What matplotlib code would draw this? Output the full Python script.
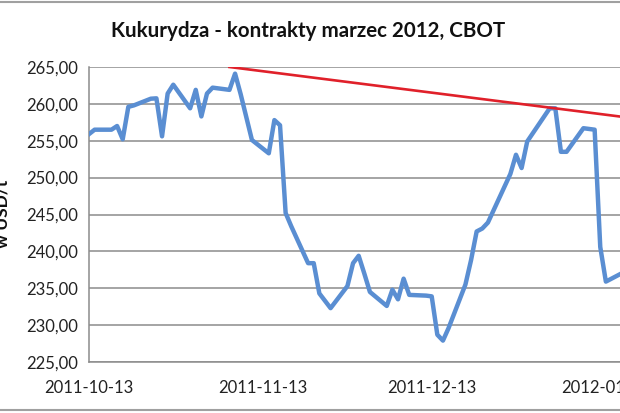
import numpy as np
import pandas as pd
import matplotlib
matplotlib.use('Agg')
import matplotlib.pyplot as plt
import matplotlib.dates as mdates
from matplotlib.ticker import FuncFormatter
from matplotlib.lines import Line2D

# notowania kukurydzy (kontrakt marzec 2012), USD/t
daty = ['2011-10-13', '2011-10-14', '2011-10-17', '2011-10-18', '2011-10-19',
        '2011-10-20', '2011-10-21', '2011-10-24', '2011-10-25', '2011-10-26',
        '2011-10-27', '2011-10-28', '2011-10-31', '2011-11-01', '2011-11-02',
        '2011-11-03', '2011-11-04', '2011-11-07', '2011-11-08', '2011-11-09',
        '2011-11-10', '2011-11-11', '2011-11-14', '2011-11-15', '2011-11-16',
        '2011-11-17', '2011-11-18', '2011-11-21', '2011-11-22', '2011-11-23',
        '2011-11-25', '2011-11-28', '2011-11-29', '2011-11-30', '2011-12-01',
        '2011-12-02', '2011-12-05', '2011-12-06', '2011-12-07', '2011-12-08',
        '2011-12-09', '2011-12-12', '2011-12-13', '2011-12-14', '2011-12-15',
        '2011-12-16', '2011-12-19', '2011-12-20', '2011-12-21', '2011-12-22',
        '2011-12-23', '2011-12-27', '2011-12-28', '2011-12-29', '2011-12-30',
        '2012-01-03', '2012-01-04', '2012-01-05', '2012-01-06', '2012-01-09',
        '2012-01-10', '2012-01-11', '2012-01-12', '2012-01-13', '2012-01-17']
ceny = [255.9, 256.5, 256.5, 257.0, 255.2,
        259.6, 259.8, 260.7, 260.75, 255.6,
        261.4, 262.6, 259.4, 261.9, 258.3,
        261.4, 262.2, 261.9, 264.1, 261.3,
        258.2, 255.1, 253.3, 257.8, 257.1,
        245.2, 243.4, 238.4, 238.4, 234.3,
        232.3, 235.3, 238.4, 239.4, 237.0,
        234.5, 232.6, 234.8, 233.5, 236.3,
        234.1, 234.0, 233.9, 228.7, 227.9,
        229.6, 235.5, 238.8, 242.7, 243.1,
        243.9, 250.5, 253.1, 251.3, 254.9,
        259.4, 259.4, 253.5, 253.5, 256.7,
        256.6, 256.5, 240.6, 235.9, 237.5]

# linia trendu (opor)
trend_daty = ['2011-11-07', '2012-01-20']
trend_ceny = [265.0, 257.85]

tick_daty = ['2011-10-13', '2011-11-13', '2011-12-13', '2012-01-13']

x = pd.to_datetime(daty)
xt = pd.to_datetime(trend_daty)

fig = plt.figure(figsize=(6.2, 4.13), dpi=100)
ax = fig.add_axes([89/620, 51/413, 618/620, 295/413])

ax.plot(x, ceny, color='#5A8ED2', lw=3.2, solid_joinstyle='round', zorder=3)
ax.plot(xt, trend_ceny, color='#E0202A', lw=1.9, zorder=4)

ax.set_ylim(225, 265)
ax.set_yticks(np.arange(225, 266, 5))
ax.yaxis.set_major_formatter(FuncFormatter(lambda v, p: ('%.2f' % v).replace('.', ',')))
ax.set_xlim(pd.Timestamp('2011-10-13'), pd.Timestamp('2011-10-13') + pd.Timedelta(days=110))
ax.set_xticks(pd.to_datetime(tick_daty))
ax.xaxis.set_major_formatter(mdates.DateFormatter('%Y-%m-%d'))

ax.grid(axis='y', color='#8C8C8C', lw=1.1)
ax.set_axisbelow(True)
for s in ['top', 'right']:
    ax.spines[s].set_visible(False)
ax.spines['left'].set_color('#8C8C8C')
ax.spines['bottom'].set_color('#8C8C8C')
ax.spines['left'].set_linewidth(1.1)
ax.spines['bottom'].set_linewidth(1.1)
ax.tick_params(axis='both', length=0, labelsize=12, labelcolor='#222222')
ax.tick_params(axis='y', pad=8)
ax.tick_params(axis='x', pad=13)
for lab in ax.get_xticklabels() + ax.get_yticklabels():
    lab.set_fontfamily('Lato')

fig.text(308/620, 1 - 31/413, 'Kukurydza - kontrakty marzec 2012, CBOT',
         ha='center', va='center', fontsize=14.8, fontweight='bold',
         family='Lato', color='#111111')
fig.text(11/620, 1 - 214/413, 'w USD/t', rotation=90, ha='right', va='center',
         fontsize=12.5, fontweight='bold', family='Lato', color='#111111')

# ramka wykresu
fig.add_artist(Line2D([0, 1], [1 - 2/413, 1 - 2/413], color='#A0A0A0', lw=1.5))
fig.add_artist(Line2D([0, 1], [1 - 410/413, 1 - 410/413], color='#A0A0A0', lw=1.5))

fig.savefig('out.png', dpi=100)
